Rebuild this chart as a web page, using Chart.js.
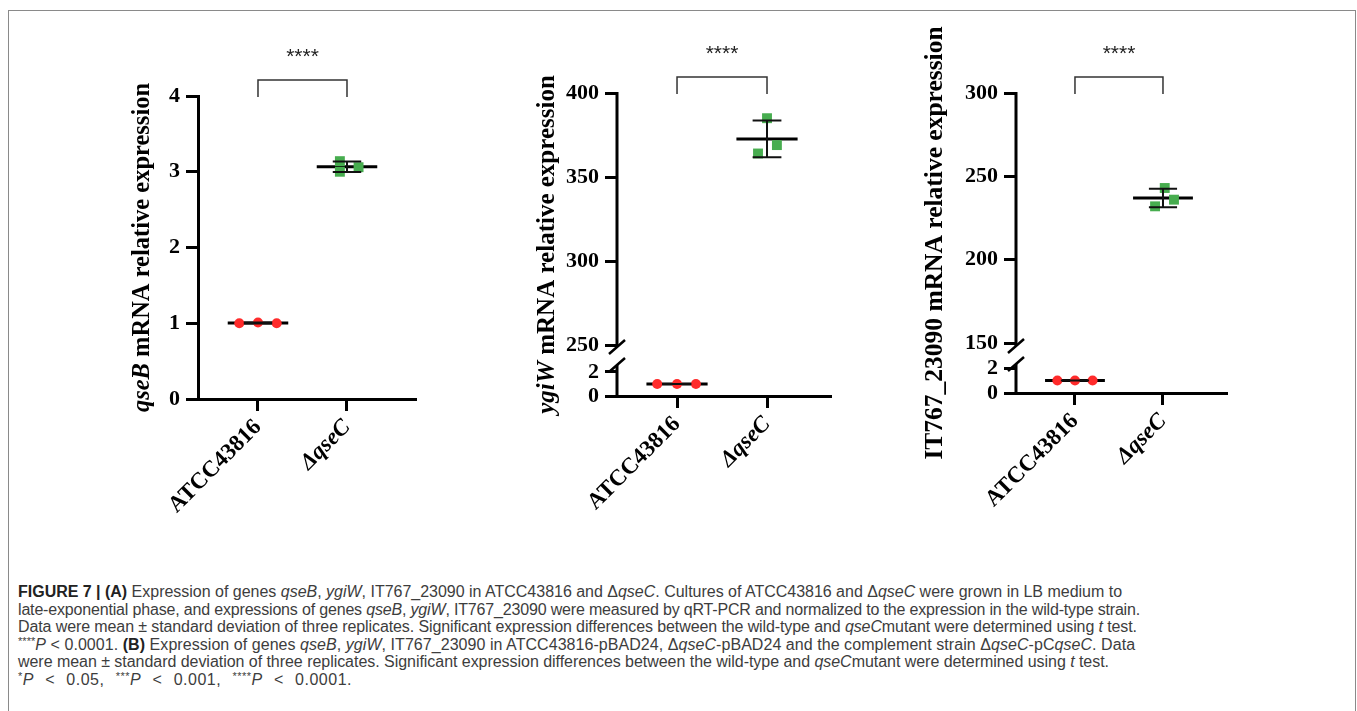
<!DOCTYPE html>
<html>
<head>
<meta charset="utf-8">
<script src="https://cdn.jsdelivr.net/npm/chart.js@4.4.1/dist/chart.umd.min.js"></script>
<style>
  html, body { margin: 0; padding: 0; background: #fff; }
  body { width: 1357px; height: 711px; overflow: hidden; position: relative; }
  #frame { position: absolute; left: 8px; top: 10px; width: 1346px; height: 760px; border: 1px solid #8a8a8a; border-bottom: none; }
  canvas { position: absolute; top: 0; }
  #caption { position: absolute; left: 18px; top: 583px; font-family: "Liberation Sans", Arial, sans-serif; font-size: 16px; line-height: 17.6px; color: #3d3d3d; white-space: nowrap; }
  #caption > div { width: max-content; }
  #caption b { color: #222; }
  #caption sup { font-size: 11px; vertical-align: 5px; line-height: 0; }
</style>
</head>
<body>
<div id="frame"></div>
<canvas id="c1" width="330" height="545" style="left:110px"></canvas>
<canvas id="c2" width="360" height="545" style="left:490px"></canvas>
<canvas id="c3" width="370" height="545" style="left:880px"></canvas>
<div id="caption">
<div><b>FIGURE 7 | (A)</b> Expression of genes <i>qseB</i>, <i>ygiW</i>, IT767_23090 in ATCC43816 and Δ<i>qseC</i>. Cultures of ATCC43816 and Δ<i>qseC</i> were grown in LB medium to</div>
<div>late-exponential phase, and expressions of genes <i>qseB</i>, <i>ygiW</i>, IT767_23090 were measured by qRT-PCR and normalized to the expression in the wild-type strain.</div>
<div>Data were mean ± standard deviation of three replicates. Significant expression differences between the wild-type and <i>qseC</i>mutant were determined using <i>t</i> test.</div>
<div><sup>****</sup><i>P</i> &lt; 0.0001. <b>(B)</b> Expression of genes <i>qseB</i>, <i>ygiW</i>, IT767_23090 in ATCC43816-pBAD24, Δ<i>qseC</i>-pBAD24 and the complement strain Δ<i>qseC</i>-pC<i>qseC</i>. Data</div>
<div>were mean ± standard deviation of three replicates. Significant expression differences between the wild-type and <i>qseC</i>mutant were determined using <i>t</i> test.</div>
<div><sup>*</sup><i>P</i> &lt; 0.05, <sup>***</sup><i>P</i> &lt; 0.001, <sup>****</sup><i>P</i> &lt; 0.0001.</div>
</div>
<script>
// strains on the x axis
const groups = ['ATCC43816', 'ΔqseC'];
const stars = '****';

// qseB
const qseB_wt = [1.00, 1.01, 1.00];
const qseB_mut = [3.14, 3.00, 3.06];
const qseB_wtJitter = [-0.21, 0, 0.21];
const qseB_mutJitter = [-0.08, -0.08, 0.13];
const qseB_ticks = [0, 1, 2, 3, 4];

// ygiW (broken axis)
const ygiW_wt = [1.0, 1.0, 1.0];
const ygiW_mut = [385, 369, 364];
const ygiW_wtJitter = [-0.22, 0, 0.21];
const ygiW_mutJitter = [0, 0.11, -0.1];
const ygiW_ticksLow = [0, 2];
const ygiW_ticksHigh = [250, 300, 350, 400];

// IT767_23090 (broken axis)
const it_wt = [1.0, 1.0, 1.0];
const it_mut = [243, 236, 232];
const it_wtJitter = [-0.2, 0, 0.2];
const it_mutJitter = [0.02, 0.125, -0.09];
const it_ticksLow = [0, 2];
const it_ticksHigh = [150, 200, 250, 300];

const SERIF = '"Liberation Serif", "Times New Roman", serif';
const RED = '#ff2b2b';
const GREEN = '#47ad4f';

function mean(a) { return a.reduce((s, v) => s + v, 0) / a.length; }
function sd(a) {
    const m = mean(a);
    return Math.sqrt(a.reduce((s, v) => s + (v - m) * (v - m), 0) / (a.length - 1));
}

// mean line under the points, SD bars over them
const meanPlugin = {
    id: 'meanLines',
    beforeDatasetsDraw(chart) {
        const ctx = chart.ctx, xs = chart.scales.x;
        chart.data.datasets.forEach((ds, i) => {
            const ys = chart.scales[ds.yAxisID];
            const m = mean(ds.data.map(d => d.y));
            ctx.save();
            ctx.strokeStyle = '#000';
            ctx.lineWidth = 3;
            ctx.beginPath();
            ctx.moveTo(xs.getPixelForValue(i - 0.34), ys.getPixelForValue(m));
            ctx.lineTo(xs.getPixelForValue(i + 0.34), ys.getPixelForValue(m));
            ctx.stroke();
            ctx.restore();
        });
    },
    afterDatasetsDraw(chart) {
        const ctx = chart.ctx, xs = chart.scales.x;
        chart.data.datasets.forEach((ds, i) => {
            const ys = chart.scales[ds.yAxisID];
            const vals = ds.data.map(d => d.y);
            const m = mean(vals), s = sd(vals);
            const x = xs.getPixelForValue(i);
            const y1 = ys.getPixelForValue(m + s), y2 = ys.getPixelForValue(m - s);
            ctx.save();
            ctx.strokeStyle = '#111';
            ctx.lineWidth = 2;
            ctx.beginPath();
            ctx.moveTo(x, y1); ctx.lineTo(x, y2);
            [y1, y2].forEach(y => {
                ctx.moveTo(xs.getPixelForValue(i - 0.16), y);
                ctx.lineTo(xs.getPixelForValue(i + 0.16), y);
            });
            ctx.stroke();
            ctx.restore();
        });
    }
};

// significance bracket, y title and broken axis line
const decoPlugin = {
    id: 'deco',
    afterDraw(chart) {
        const ctx = chart.ctx, a = chart.chartArea, xs = chart.scales.x;
        const p = chart.options.plugins.deco;
        const x0 = xs.getPixelForValue(0), x1 = xs.getPixelForValue(1);
        ctx.save();
        ctx.strokeStyle = '#333';
        ctx.lineWidth = 1.5;
        ctx.beginPath();
        ctx.moveTo(x0, a.top + 1);
        ctx.lineTo(x0, a.top - 16);
        ctx.lineTo(x1, a.top - 16);
        ctx.lineTo(x1, a.top + 1);
        ctx.stroke();
        ctx.fillStyle = '#222';
        ctx.font = '21px "Liberation Sans", Arial, sans-serif';
        ctx.textAlign = 'center';
        ctx.textBaseline = 'middle';
        ctx.fillText(stars, (x0 + x1) / 2, a.top - 39);

        // rotated y title with italic gene name
        const parts = p.title;
        const fonts = parts.map(t => (t.italic ? 'italic ' : '') + 'bold ' + p.titleSize + 'px ' + SERIF);
        let total = 0;
        const widths = parts.map((t, i) => { ctx.font = fonts[i]; const w = ctx.measureText(t.text).width; total += w; return w; });
        ctx.translate(a.left - p.titleOffset, (a.top + a.bottom) / 2);
        ctx.rotate(-Math.PI / 2);
        ctx.fillStyle = '#000';
        ctx.textAlign = 'left';
        let cx = -total / 2;
        parts.forEach((t, i) => { ctx.font = fonts[i]; ctx.fillText(t.text, cx, 0); cx += widths[i]; });
        ctx.restore();

        if (chart.scales.yHigh) {
            const hi = chart.scales.yHigh, lo = chart.scales.yLow, x = a.left;
            const yA = hi.bottom - 9, yB = lo.top + 9;
            ctx.save();
            ctx.strokeStyle = '#000';
            ctx.lineWidth = 3;
            ctx.beginPath();
            ctx.moveTo(x, hi.top - 1); ctx.lineTo(x, yA);
            ctx.moveTo(x, yB); ctx.lineTo(x, lo.bottom + 1);
            ctx.stroke();
            ctx.lineWidth = 2.5;
            ctx.beginPath();
            [yA, yB].forEach(y => { ctx.moveTo(x - 8, y + 7); ctx.lineTo(x + 8, y - 7); });
            ctx.stroke();
            ctx.restore();
        }
    }
};

function axisCommon(extra) {
    return Object.assign({
        type: 'linear',
        position: 'left',
        ticks: { autoSkip: false, color: '#000', padding: 6, font: { family: SERIF, size: 22, weight: 'bold' } },
        grid: { drawOnChartArea: false, tickLength: 12, color: '#000', lineWidth: 3 },
        border: { color: '#000', width: 3 }
    }, extra);
}

function buildPanel(p) {
    const canvas = document.getElementById(p.id);
    const W = canvas.width, H = canvas.height;
    const left = p.area.left - p.left, right = p.area.right - p.left;
    const scales = {
        x: {
            type: 'linear', min: p.xMin, max: p.xMax,
            afterBuildTicks: s => { s.ticks = groups.map((g, i) => ({ value: i })); },
            afterFit: s => { s.height = H - p.area.bottom; },
            ticks: {
                autoSkip: false, minRotation: 45, maxRotation: 45, padding: 3, color: '#000',
                callback: v => groups[v],
                font: c => ({ family: SERIF, size: 23, weight: 'bold', style: (c.tick && c.tick.value === 1) ? 'italic' : 'normal' })
            },
            grid: { drawOnChartArea: false, tickLength: 12, color: '#000', lineWidth: 3 },
            border: { color: '#000', width: 3 }
        }
    };
    const fitY = s => { s.width = left; };
    let wtAxis = 'y', mutAxis = 'y';
    if (p.lowMax) {
        wtAxis = 'yLow'; mutAxis = 'yHigh';
        scales.yLow = axisCommon({
            min: 0, max: p.lowMax, stack: 'y', stackWeight: p.lowWeight,
            afterBuildTicks: s => { s.ticks = p.ticksLow.map(v => ({ value: v })); },
            afterFit: fitY, border: { display: false }
        });
        scales.yHigh = axisCommon({
            min: p.highMin, max: p.highMax, stack: 'y', stackWeight: p.highWeight,
            afterBuildTicks: s => { s.ticks = p.ticksHigh.map(v => ({ value: v })); },
            afterFit: fitY, border: { display: false }
        });
    } else {
        scales.y = axisCommon({
            min: 0, max: 4,
            afterBuildTicks: s => { s.ticks = p.ticks.map(v => ({ value: v })); },
            afterFit: fitY
        });
    }
    new Chart(canvas, {
        type: 'scatter',
        data: {
            datasets: [
                {
                    data: p.wt.map((v, i) => ({ x: 0 + p.wtJitter[i], y: v })),
                    yAxisID: wtAxis, pointStyle: 'circle', pointRadius: 5,
                    backgroundColor: RED, borderWidth: 0
                },
                {
                    data: p.mut.map((v, i) => ({ x: 1 + p.mutJitter[i], y: v })),
                    yAxisID: mutAxis, pointStyle: 'rect', pointRadius: 7,
                    backgroundColor: GREEN, borderWidth: 0
                }
            ]
        },
        options: {
            responsive: false,
            animation: false,
            devicePixelRatio: 1,
            events: [],
            layout: { autoPadding: false, padding: { top: p.area.top, left: 0, bottom: 0, right: W - right } },
            scales: scales,
            plugins: {
                legend: { display: false },
                tooltip: { enabled: false },
                deco: { title: p.title, titleSize: p.titleSize, titleOffset: p.titleOffset }
            }
        },
        plugins: [meanPlugin, decoPlugin]
    });
}

buildPanel({
    id: 'c1', left: 110,
    area: { left: 198, right: 415, top: 96, bottom: 399 },
    xMin: -0.674, xMax: 1.764,
    wt: qseB_wt, mut: qseB_mut, wtJitter: qseB_wtJitter, mutJitter: qseB_mutJitter,
    ticks: qseB_ticks,
    title: [{ text: 'qseB', italic: true }, { text: ' mRNA relative expression' }],
    titleSize: 24.5, titleOffset: 55
});

buildPanel({
    id: 'c2', left: 490,
    area: { left: 617, right: 830, top: 93, bottom: 396 },
    xMin: -0.667, xMax: 1.7,
    wt: ygiW_wt, mut: ygiW_mut, wtJitter: ygiW_wtJitter, mutJitter: ygiW_mutJitter,
    lowMax: 3.33, lowWeight: 40, highMin: 243.5, highMax: 400, highWeight: 263,
    ticksLow: ygiW_ticksLow, ticksHigh: ygiW_ticksHigh,
    title: [{ text: 'ygiW', italic: true }, { text: ' mRNA relative expression' }],
    titleSize: 25, titleOffset: 69
});

buildPanel({
    id: 'c3', left: 880,
    area: { left: 1016, right: 1226, top: 93, bottom: 393 },
    xMin: -0.67, xMax: 1.716,
    wt: it_wt, mut: it_mut, wtJitter: it_wtJitter, mutJitter: it_mutJitter,
    lowMax: 3.04, lowWeight: 38, highMin: 142.8, highMax: 300, highWeight: 262,
    ticksLow: it_ticksLow, ticksHigh: it_ticksHigh,
    title: [{ text: 'IT767_23090 mRNA relative expression' }],
    titleSize: 25.5, titleOffset: 81
});

// stretch each caption line to the width it has in the figure:
// a little letter spacing, the rest goes into the word gaps
const captionRight = [1122, 1140, 1137, 1135, 1109, 352];
document.querySelectorAll('#caption > div').forEach((d, i) => {
    const w = d.getBoundingClientRect().width;
    const txt = d.textContent;
    const n = txt.length, gaps = (txt.match(/ /g) || []).length || 1;
    const extra = captionRight[i] - 18 - w;
    const ls = Math.max(-0.5, Math.min(extra / n, 0.5));
    d.style.letterSpacing = ls.toFixed(3) + 'px';
    d.style.wordSpacing = ((extra - ls * n) / gaps).toFixed(3) + 'px';
});
</script>
</body>
</html>
